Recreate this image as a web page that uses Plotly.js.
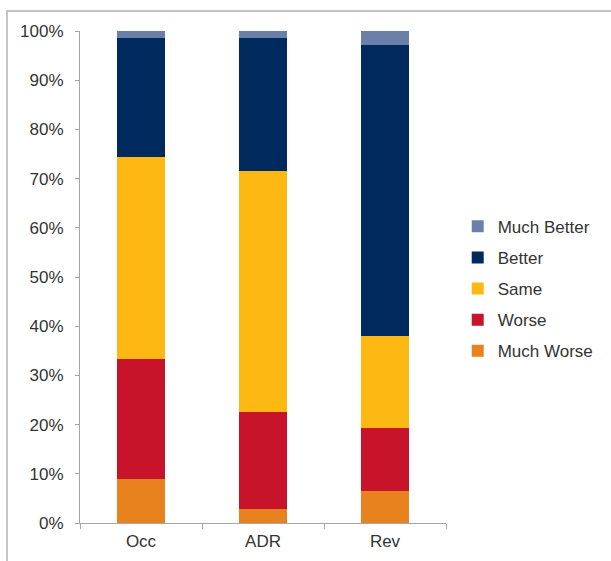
<!DOCTYPE html>
<html>
<head>
<meta charset="utf-8">
<script src="https://cdn.plot.ly/plotly-3.0.1.min.js"></script>
<style>
html,body{margin:0;padding:0;background:#fff;overflow:hidden;}
#wrap{position:relative;width:611px;height:561px;}
#frame{position:absolute;left:6px;top:10px;width:700px;height:700px;border-left:2px solid #c4c4c4;border-top:2px solid #c4c4c4;}
#chart{position:absolute;left:0;top:0;width:611px;height:561px;}
</style>
</head>
<body>
<div id="wrap"><div id="frame"></div><div id="chart"></div></div>
<script>
var categories = ["Occ", "ADR", "Rev"];
var seriesNames = ["Much Worse", "Worse", "Same", "Better", "Much Better"];
var muchWorse  = [8.9, 2.8, 6.5];
var worse      = [24.4, 19.8, 12.9];
var same       = [41.0, 49.0, 18.7];
var better     = [24.3, 27.0, 59.1];
var muchBetter = [1.4, 1.4, 2.8];
var yTickVals  = [0, 10, 20, 30, 40, 50, 60, 70, 80, 90, 100];
var yTickText  = ["0%", "10%", "20%", "30%", "40%", "50%", "60%", "70%", "80%", "90%", "100%"];

var colors = ["#E8821E", "#C8142A", "#FDB813", "#002A5E", "#6B80A9"];
var values = [muchWorse, worse, same, better, muchBetter];

var traces = values.map(function(v, i){
  return {
    type: "bar",
    name: seriesNames[i],
    x: categories,
    y: v,
    legendgroup: "g" + i,
    legendrank: 10 - i,
    marker: {color: colors[i], line: {width: 0}},
    hoverinfo: "name+y"
  };
});

var layout = {
  width: 611, height: 561,
  margin: {l: 80, r: 160, t: 31, b: 38},
  paper_bgcolor: "rgba(0,0,0,0)",
  plot_bgcolor: "rgba(0,0,0,0)",
  barmode: "stack",
  bargap: 0.6,
  font: {family: "Liberation Sans, Arial, sans-serif", size: 17, color: "#333333"},
  xaxis: {
    type: "category",
    showline: true, linecolor: "#a6a6a6", linewidth: 1,
    ticks: "outside", tickson: "boundaries", ticklen: 5, tickcolor: "#a6a6a6",
    showgrid: false, zeroline: false,
    ticklabelstandoff: 3,
    tickfont: {size: 17, color: "#333333"}
  },
  yaxis: {
    range: [0, 100], tickvals: yTickVals, ticktext: yTickText,
    showline: true, linecolor: "#a6a6a6", linewidth: 1,
    ticks: "outside", ticklen: 4, tickcolor: "#a6a6a6",
    showgrid: false, zeroline: false,
    ticklabelstandoff: 8,
    tickfont: {size: 17, color: "#333333"}
  },
  legend: {
    x: 1.032, xanchor: "left", y: 0.476, yanchor: "middle",
    traceorder: "grouped", tracegroupgap: 6,
    font: {size: 17, color: "#333333"},
    bgcolor: "rgba(0,0,0,0)"
  },
  showlegend: true
};

Plotly.newPlot("chart", traces, layout, {displayModeBar: false, staticPlot: true});
</script>
</body>
</html>
